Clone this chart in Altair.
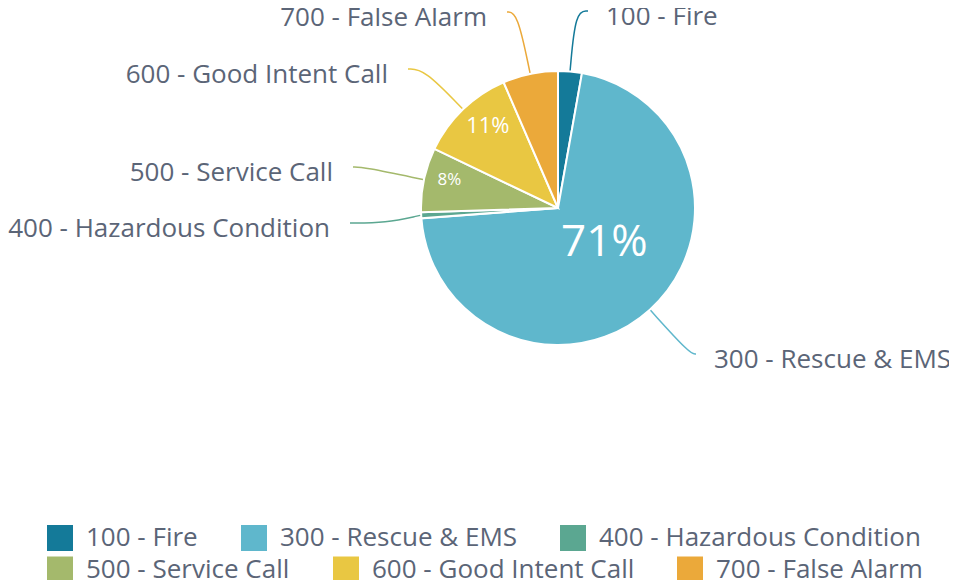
import math
import altair as alt
import pandas as pd

# ---------------- data ----------------
categories = ["100 - Fire", "300 - Rescue & EMS", "400 - Hazardous Condition",
              "500 - Service Call", "600 - Good Intent Call", "700 - False Alarm"]
shares = [2.8, 71.0, 0.7, 7.6, 11.4, 6.5]
colors = ["#147a99", "#5fb7cc", "#5ba791", "#a4b96c", "#e9c742", "#eba93a"]

# ---------------- layout ----------------
W, H = 941, 572
CX, CY, R = 550, 200, 137
TEXT = "#5b6577"
FONT = "Open Sans"
FS = 26
# outside label anchor (x, y, align)
label_pos = [(598, 9, "left"), (706, 352, "left"), (322, 221, "right"),
             (325, 165, "right"), (380, 67, "right"), (479, 10, "right")]
pct_radius = [0, 58, 0, 112, 108, 0]
pct_angle_shift = [0, -11, 0, 2.5, 3.4, 0]
pct_size = [0, 44, 0, 17, 22, 0]
# legend swatch left edges and row centers (flowed rows)
legend_x = [39, 233, 552, 39, 325, 669]
legend_y = [530, 530, 530, 561.5, 561.5, 561.5]
SW = 26

total = sum(shares)
rows, pct_rows, conn_rows, lab_rows, leg_rows = [], [], [], [], []
cum = 0.0
for i, (cat, v) in enumerate(zip(categories, shares)):
    f = v / total
    a0 = cum * 2 * math.pi
    a1 = (cum + f) * 2 * math.pi
    cum += f
    mid = (a0 + a1) / 2
    rows.append({"cat": cat, "share": v, "ord": i})
    if f >= 0.07:
        ang = mid + math.radians(pct_angle_shift[i])
        pct_rows.append({"cat": cat, "txt": f"{round(f * 100)}%",
                         "px": CX + pct_radius[i] * math.sin(ang),
                         "py": CY - pct_radius[i] * math.cos(ang),
                         "fs": pct_size[i]})
    lx, ly, al = label_pos[i]
    ex = lx - 18 if al == "left" else lx + 20
    ey = ly - 6
    dx, dy = math.sin(mid), -math.cos(mid)
    p0x, p0y = CX + (R + 1) * dx, CY + (R + 1) * dy
    p1x, p1y = (p0x + ex) / 2, ey
    if abs(dy) > 1e-6:
        t = (ey - p0y) / dy
        cx_ = p0x + t * dx
        if t > 0 and min(p0x, ex) <= cx_ <= max(p0x, ex):
            p1x = cx_
    for k, (xx, yy) in enumerate([(p0x, p0y), (p1x, p1y), (ex, ey)]):
        conn_rows.append({"cat": cat, "k": k, "cx": xx, "cy": yy})
    lab_rows.append({"cat": cat, "lx": lx, "ly": ly, "al": al})
    leg_rows.append({"cat": cat, "sx": legend_x[i] + SW / 2, "sy": legend_y[i],
                     "tx": legend_x[i] + SW + 13, "ty": legend_y[i]})

df = pd.DataFrame(rows)
pct_df = pd.DataFrame(pct_rows)
conn_df = pd.DataFrame(conn_rows)
lab_df = pd.DataFrame(lab_rows)
leg_df = pd.DataFrame(leg_rows)

color_scale = alt.Scale(domain=categories, range=colors)

pie = alt.Chart(df).mark_arc(outerRadius=R, stroke="white", strokeWidth=2).encode(
    theta=alt.Theta("share:Q", stack=True),
    order=alt.Order("ord:Q"),
    x=alt.value(CX),
    y=alt.value(CY),
    color=alt.Color("cat:N", scale=color_scale, sort=categories, legend=None),
)

pct = alt.Chart(pct_df).mark_text(color="white", font=FONT, align="center",
                                   baseline="middle").encode(
    x=alt.X("px:Q", scale=None, axis=None),
    y=alt.Y("py:Q", scale=None, axis=None),
    text="txt:N",
    size=alt.Size("fs:Q", scale=None, legend=None),
)

conn = alt.Chart(conn_df).mark_line(interpolate="basis", strokeWidth=1.5).encode(
    x=alt.X("cx:Q", scale=None, axis=None),
    y=alt.Y("cy:Q", scale=None, axis=None),
    detail="cat:N",
    order="k:Q",
    stroke=alt.Stroke("cat:N", scale=color_scale, legend=None),
)

labels_left = alt.Chart(lab_df[lab_df.al == "left"]).mark_text(
    align="left", baseline="middle", font=FONT, fontSize=FS, color=TEXT).encode(
    x=alt.X("lx:Q", scale=None, axis=None),
    y=alt.Y("ly:Q", scale=None, axis=None),
    text="cat:N",
)
labels_right = alt.Chart(lab_df[lab_df.al == "right"]).mark_text(
    align="right", baseline="middle", font=FONT, fontSize=FS, color=TEXT).encode(
    x=alt.X("lx:Q", scale=None, axis=None),
    y=alt.Y("ly:Q", scale=None, axis=None),
    text="cat:N",
)

leg_sw = alt.Chart(leg_df).mark_square(size=SW * SW, opacity=1).encode(
    x=alt.X("sx:Q", scale=None, axis=None),
    y=alt.Y("sy:Q", scale=None, axis=None),
    fill=alt.Fill("cat:N", scale=color_scale, legend=None),
)
leg_tx = alt.Chart(leg_df).mark_text(
    align="left", baseline="middle", font=FONT, fontSize=FS, color=TEXT).encode(
    x=alt.X("tx:Q", scale=None, axis=None),
    y=alt.Y("ty:Q", scale=None, axis=None),
    text="cat:N",
)

chart = alt.layer(pie, conn, pct, labels_left, labels_right, leg_sw, leg_tx).properties(
    width=W, height=H, autosize=alt.AutoSizeParams(type="none"), padding=0,
).configure_view(stroke=None)

chart.save("out.html", embed_options={"renderer": "svg", "actions": False})
